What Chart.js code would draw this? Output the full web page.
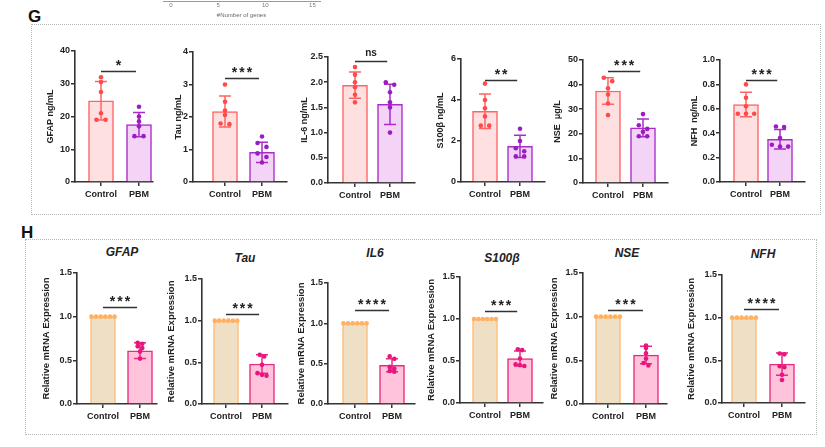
<!DOCTYPE html>
<html>
<head>
<meta charset="utf-8">
<script src="https://cdn.jsdelivr.net/npm/chart.js@4"></script>
<style>
  body { margin: 0; background: #fff; width: 825px; height: 447px; position: relative; overflow: hidden; font-family: 'Liberation Sans', Arial, sans-serif; }
  .box { position: absolute; border: 1px dotted #b8b8b8; }
  .letter { position: absolute; font-weight: bold; font-size: 17px; color: #111; }
  .gene { position: absolute; font-weight: bold; font-style: italic; font-size: 12px; color: #222; transform: translate(-50%, -50%); white-space: nowrap; }
  canvas { position: absolute; }
</style>
</head>
<body>
<div class="letter" style="left:28px;top:7px;">G</div>
<div class="box" style="left:31px;top:24px;width:788px;height:189px;"></div>
<div class="letter" style="left:21px;top:223px;">H</div>
<div class="box" style="left:25px;top:239px;width:790px;height:194px;"></div>

<script>
var categories = ['Control', 'PBM'];

// G: serum protein levels
var gTitles = ['GFAP ng/mL', 'Tau ng/mL', 'IL-6 ng/mL', 'S100β ng/mL', 'NSE  μg/L', 'NFH  ng/mL'];
var gMax = [40, 4, 2.5, 6, 50, 1.0];
var gStep = [10, 1, 0.5, 2, 10, 0.2];
var gDec = [0, 0, 1, 0, 0, 1];
var gCtrl = [
  [32, 30.5, 27.5, 21, 19, 19],
  [3.0, 2.47, 2.2, 2.06, 1.8, 1.78],
  [2.3, 2.15, 2.0, 1.9, 1.75, 1.6],
  [4.8, 4.0, 3.6, 3.2, 2.75, 2.75],
  [42.8, 41.4, 38.5, 36, 32.3, 27.6],
  [0.8, 0.69, 0.62, 0.56, 0.56, 0.56]
];
var gPbm = [
  [23, 20, 18.5, 17, 14, 14],
  [1.4, 1.2, 1.08, 0.88, 0.77, 0.6],
  [2.0, 1.95, 1.8, 1.6, 1.5, 1.0],
  [2.6, 2.0, 1.65, 1.5, 1.25, 1.25],
  [28, 23.5, 22, 20.8, 19, 19],
  [0.455, 0.45, 0.36, 0.305, 0.29, 0.29]
];
var gMean = [[24.8, 17.5], [2.17, 0.91], [1.94, 1.56], [3.45, 1.74], [37.4, 22.4], [0.635, 0.35]];
var gSD = [[5.9, 3.7], [0.48, 0.31], [0.26, 0.4], [0.84, 0.54], [5.4, 3.6], [0.1, 0.08]];
var gSigY = [33.8, 3.19, 2.42, 4.97, 45.6, 0.84];
var gSig = ['*', '***', 'ns', '**', '***', '***'];

// H: relative mRNA expression
var hGenes = ['GFAP', 'Tau', 'IL6', 'S100β', 'NSE', 'NFH'];
var hTicks = [0, 0.5, 1.0, 1.5];
var hCtrl = [1, 1, 1, 1, 1, 1];
var hPbm = [
  [0.70, 0.69, 0.66, 0.64, 0.60, 0.52],
  [0.59, 0.57, 0.47, 0.37, 0.35, 0.34],
  [0.59, 0.56, 0.46, 0.44, 0.41, 0.40],
  [0.64, 0.63, 0.53, 0.46, 0.45, 0.44],
  [0.67, 0.64, 0.58, 0.52, 0.47, 0.44],
  [0.58, 0.57, 0.43, 0.42, 0.33, 0.27]
];
var hMean = [0.61, 0.48, 0.48, 0.53, 0.56, 0.455];
var hSD = [0.09, 0.11, 0.08, 0.09, 0.10, 0.13];
var hSigY = [1.11, 1.08, 1.17, 1.09, 1.08, 1.1];
var hSig = ['***', '***', '****', '***', '***', '****'];

// partial axis of the panel above
var geneTicks = [0, 5, 10, 15];

// layout: [axisX, endX, ctrlX, pbmX, topY, bottomY, yAxisWidth]
var gLayout = [
  [75, 153, 101, 139, 51, 182, 30],
  [193, 287, 225, 262, 52, 182, 20],
  [328, 415, 355, 390, 57, 183, 29],
  [461, 545, 485, 520, 59, 182, 26],
  [583, 668, 608, 643, 60, 183, 31],
  [720, 805, 746, 780, 60, 182, 31]
];
var hLayout = [
  [77, 157, 103, 140, 273, 404, 36],
  [202, 288, 226, 262, 279, 404, 36],
  [328, 415, 355, 392, 283, 404, 32],
  [460, 543, 485, 520, 277, 403, 34],
  [583, 667, 608, 646, 273, 404, 34],
  [722, 805, 744, 782, 275, 403, 36]
];
var hTitlePos = [[122, 252], [245, 258], [375, 253], [502, 258], [627, 253], [763, 254]];

Chart.defaults.font.family = "'Liberation Sans', Arial, sans-serif";
Chart.defaults.color = '#222';

var axisColor = '#333';

var errPlugin = {
  id: 'errbars',
  afterDatasetDraw: function(chart, args, opts) {
    if (args.meta.type !== 'bar') return;
    var c = chart.ctx, xs = chart.scales.x, ys = chart.scales.y;
    c.save();
    c.lineWidth = 1.5;
    for (var i = 0; i < 2; i++) {
      if (!opts.sd[i]) continue;
      var x = xs.getPixelForValue(i);
      var yt = ys.getPixelForValue(opts.mean[i] + opts.sd[i]);
      var yb = ys.getPixelForValue(opts.mean[i] - opts.sd[i]);
      c.strokeStyle = opts.colors[i];
      c.beginPath();
      c.moveTo(x, yt); c.lineTo(x, yb);
      c.moveTo(x - 6, yt); c.lineTo(x + 6, yt);
      c.moveTo(x - 6, yb); c.lineTo(x + 6, yb);
      c.stroke();
    }
    c.restore();
  }
};

var sigPlugin = {
  id: 'sig',
  afterDraw: function(chart, args, opts) {
    var c = chart.ctx, xs = chart.scales.x, ys = chart.scales.y;
    var x0 = xs.getPixelForValue(0), x1 = xs.getPixelForValue(0.92);
    var y = Math.round(ys.getPixelForValue(opts.y)) + 0.5;
    c.save();
    c.strokeStyle = axisColor;
    c.lineWidth = 1.5;
    c.beginPath(); c.moveTo(x0, y); c.lineTo(x1, y); c.stroke();
    c.fillStyle = '#222';
    c.textAlign = 'center';
    c.textBaseline = 'alphabetic';
    if (opts.text === 'ns') {
      c.font = "bold 10px 'Liberation Sans', Arial, sans-serif";
      c.fillText(opts.text, (x0 + x1) / 2, y - 6);
    } else {
      c.font = "bold 14px 'Liberation Sans', Arial, sans-serif";
      c.letterSpacing = '2px';
      c.fillText(opts.text, (x0 + x1) / 2 + 1, y - 1.5);
    }
    c.restore();
  }
};

// spread equal-ish values sideways like a swarm
function swarm(vals, base, thr, step) {
  var sorted = vals.slice().sort(function(a, b) { return b - a; });
  var groups = [];
  sorted.forEach(function(v) {
    var g = groups[groups.length - 1];
    if (g && g[0] - v < thr) g.push(v); else groups.push([v]);
  });
  var pts = [];
  groups.forEach(function(g) {
    for (var k = 0; k < g.length; k++) pts.push({ x: base + (k - (g.length - 1) / 2) * step, y: g[k] });
  });
  return pts;
}

function miniChart(L, o) {
  var padTop = 12, padR = 4, xH = 20;
  var unit = L[3] - L[2];
  var cv = document.createElement('canvas');
  var w = L[6] + (L[1] - L[0]) + padR;
  var h = padTop + (L[5] - L[4]) + xH;
  cv.width = w; cv.height = h;
  cv.style.width = w + 'px'; cv.style.height = h + 'px';
  cv.style.left = (L[0] - L[6]) + 'px';
  cv.style.top = (L[4] - padTop) + 'px';
  document.body.appendChild(cv);

  var ctrlPts = swarm(o.ctrl, 0, o.thr, o.step);
  var pbmPts = swarm(o.pbm, 1, o.thr, o.step);
  var pts = ctrlPts.concat(pbmPts);
  var ptCols = ctrlPts.map(function() { return o.dot[0]; }).concat(pbmPts.map(function() { return o.dot[1]; }));

  var tickFont = { size: 9, weight: 'bold' };
  new Chart(cv, {
    type: 'bar',
    data: {
      datasets: [{
        type: 'scatter',
        data: pts,
        pointBackgroundColor: ptCols,
        pointBorderWidth: 0,
        pointRadius: 2.3,
        order: 0
      }, {
        type: 'bar',
        data: [{ x: 0, y: o.mean[0] }, { x: 1, y: o.mean[1] }],
        backgroundColor: o.fill,
        borderColor: o.line,
        borderWidth: 1.5,
        borderSkipped: 'bottom',
        barThickness: 25,
        order: 1
      }]
    },
    options: {
      responsive: false,
      animation: false,
      devicePixelRatio: 1,
      layout: { padding: { top: padTop, right: padR, left: 0, bottom: 0 } },
      plugins: {
        legend: { display: false },
        tooltip: { enabled: false },
        errbars: { mean: o.mean, sd: o.sd, colors: o.line },
        sig: { y: o.sigY, text: o.sig }
      },
      scales: {
        x: {
          type: 'linear',
          offset: false,
          min: -(L[2] - L[0]) / unit,
          max: 1 + (L[1] - L[3]) / unit,
          afterBuildTicks: function(s) { s.ticks = [{ value: 0 }, { value: 1 }]; },
          afterFit: function(s) { s.height = xH; },
          ticks: {
            font: tickFont, color: '#222', padding: 3, maxRotation: 0, autoSkip: false,
            callback: function(v) { return categories[v]; }
          },
          grid: { offset: false, drawOnChartArea: false, drawTicks: true, tickLength: 4, color: axisColor, lineWidth: 1.5 },
          border: { color: axisColor, width: 1.6 }
        },
        y: {
          min: 0,
          max: o.max,
          afterBuildTicks: function(s) { s.ticks = o.ticks.map(function(v) { return { value: v }; }); },
          afterFit: function(s) { s.width = L[6]; },
          ticks: {
            font: tickFont, color: '#222', padding: 1,
            callback: function(v) { return v.toFixed(o.dec); }
          },
          title: { display: true, text: o.title, font: { size: o.titleSize, weight: 'bold' }, color: '#222', padding: 0 },
          grid: { drawOnChartArea: false, drawTicks: true, tickLength: 4, color: axisColor, lineWidth: 1.5 },
          border: { color: axisColor, width: 1.6 }
        }
      }
    },
    plugins: [errPlugin, sigPlugin]
  });
}

// panel G
for (var i = 0; i < 6; i++) {
  var ticks = [];
  for (var t = 0; t <= gMax[i] + 1e-9; t += gStep[i]) ticks.push(Math.round(t * 100) / 100);
  miniChart(gLayout[i], {
    ctrl: gCtrl[i], pbm: gPbm[i], mean: gMean[i], sd: gSD[i],
    max: gMax[i], ticks: ticks, dec: gDec[i], title: gTitles[i], titleSize: 9,
    sigY: gSigY[i], sig: gSig[i],
    thr: gMax[i] * 0.035, step: 0.24,
    fill: ['#ffe0e0', '#f4d4f6'], line: ['#ff6464', '#a82ccb'], dot: ['#ff4a4a', '#9a1dc2']
  });
}

// panel H
for (var j = 0; j < 6; j++) {
  miniChart(hLayout[j], {
    ctrl: [hCtrl[j], hCtrl[j], hCtrl[j], hCtrl[j], hCtrl[j], hCtrl[j]], pbm: hPbm[j],
    mean: [1, hMean[j]], sd: [0, hSD[j]],
    max: 1.5, ticks: hTicks, dec: 1, title: 'Relative mRNA Expression', titleSize: 9.5,
    sigY: hSigY[j], sig: hSig[j],
    thr: 0.03, step: 0.125,
    fill: ['#eedfc5', '#ffc3dc'], line: ['#ffbd78', '#ec2a82'], dot: ['#ffb060', '#e8157e']
  });
  var d = document.createElement('div');
  d.className = 'gene';
  d.textContent = hGenes[j];
  d.style.left = hTitlePos[j][0] + 'px';
  d.style.top = hTitlePos[j][1] + 'px';
  document.body.appendChild(d);
}

// bottom of the panel above: "#Number of genes" axis
(function() {
  var cv = document.createElement('canvas');
  cv.width = 167; cv.height = 51;
  cv.style.left = '163px'; cv.style.top = '-30px';
  cv.style.width = '167px'; cv.style.height = '51px';
  document.body.appendChild(cv);
  new Chart(cv, {
    type: 'scatter',
    data: { datasets: [{ data: [] }] },
    options: {
      responsive: false, animation: false, devicePixelRatio: 1,
      layout: { padding: { left: 0, right: 10, top: 0, bottom: 0 } },
      plugins: { legend: { display: false }, tooltip: { enabled: false } },
      scales: {
        x: {
          type: 'linear', min: -0.85, max: 15.8,
          afterBuildTicks: function(s) { s.ticks = geneTicks.map(function(v) { return { value: v }; }); },
          afterFit: function(s) { s.height = 20; },
          ticks: { font: { size: 6 }, color: '#777', padding: 1 },
          grid: { drawOnChartArea: false, drawTicks: false },
          border: { color: '#999', width: 1 },
          title: { display: true, text: '#Number of genes', font: { size: 6 }, color: '#666', padding: { top: 0, bottom: 2 } }
        },
        y: { display: false }
      }
    }
  });
})();
</script>
</body>
</html>
